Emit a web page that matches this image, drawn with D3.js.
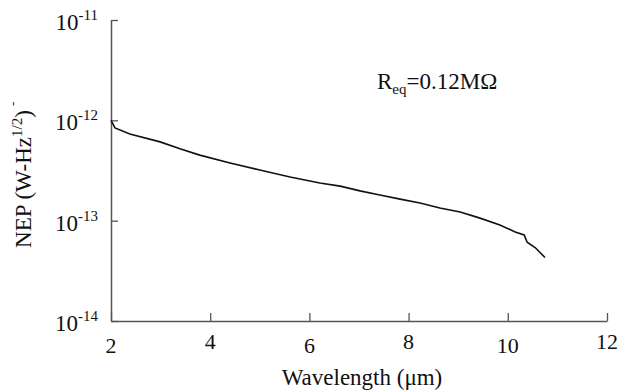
<!DOCTYPE html>
<html>
<head>
<meta charset="utf-8">
<script src="https://cdn.jsdelivr.net/npm/d3@7"></script>
<style>
  body { margin: 0; background: #fff; }
</style>
</head>
<body>
<div id="chart"></div>
<script>
// Wavelength (um) and NEP (W-Hz^-1/2)
var wavelength = [2.00, 2.08, 2.38, 2.99, 3.39, 3.79, 4.40, 5.00, 5.61, 6.21, 6.62, 7.02, 7.42,
                  7.83, 8.23, 8.63, 9.04, 9.44, 9.84, 10.15, 10.33, 10.39, 10.55, 10.75];
var nep = [1.0e-12, 8.4e-13, 7.3e-13, 6.1e-13, 5.2e-13, 4.5e-13, 3.76e-13, 3.2e-13, 2.72e-13,
           2.37e-13, 2.21e-13, 1.98e-13, 1.80e-13, 1.64e-13, 1.50e-13, 1.34e-13, 1.22e-13,
           1.06e-13, 9.06e-14, 7.7e-14, 7.2e-14, 6.1e-14, 5.4e-14, 4.3e-14];
var xTicks = [2, 4, 6, 8, 10, 12];
var yExps = [-14, -13, -12, -11];

var serif = "'Liberation Serif', 'Times New Roman', serif";

var margin = { top: 20, right: 25, bottom: 71, left: 111 },
  width = 632 - margin.left - margin.right,
  height = 392 - margin.top - margin.bottom;

var svg = d3.select("#chart")
  .append("svg")
  .attr("width", 632)
  .attr("height", 392)
  .append("g")
  .attr("transform", "translate(" + margin.left + "," + margin.top + ")");

var x = d3.scaleLinear().domain([2, 12]).range([0, width]);
var y = d3.scaleLog().domain([1e-14, 1e-11]).range([height, 0]);

// X axis, ticks point inward
var xAxis = svg.append("g")
  .attr("transform", "translate(0," + height + ")")
  .call(d3.axisBottom(x).tickValues(xTicks).tickSizeInner(-8).tickSizeOuter(0).tickFormat(""));
xAxis.select(".domain").attr("stroke", "#555").attr("stroke-width", 1.5);
xAxis.selectAll(".tick line").attr("stroke", "#555").attr("stroke-width", 1.3);

// staggered tick labels like the original
svg.selectAll(".xlab")
  .data(xTicks)
  .enter()
  .append("text")
  .attr("class", "xlab")
  .attr("x", function (d) { return x(d); })
  .attr("y", function (d, i) { return height + (i % 2 === 0 ? 32 : 28); })
  .attr("text-anchor", "middle")
  .style("font-family", serif)
  .style("font-size", "22px")
  .style("fill", "#111")
  .text(function (d) { return d; });

// Y axis
var yAxis = svg.append("g")
  .call(d3.axisLeft(y).tickValues(yExps.map(function (e) { return Math.pow(10, e); }))
    .tickSizeInner(-7).tickSizeOuter(0).tickFormat(""));
yAxis.select(".domain").attr("stroke", "#555").attr("stroke-width", 1.5);
yAxis.selectAll(".tick line").attr("stroke", "#555").attr("stroke-width", 1.3);

var ylab = svg.selectAll(".ylab")
  .data(yExps)
  .enter()
  .append("text")
  .attr("class", "ylab")
  .attr("x", -13)
  .attr("y", function (d) { return y(Math.pow(10, d)) + 10; })
  .attr("text-anchor", "end")
  .style("font-family", serif)
  .style("font-size", "23px")
  .style("fill", "#111");
ylab.append("tspan").text("10");
ylab.append("tspan")
  .attr("dy", -10)
  .style("font-size", "15px")
  .text(function (d) { return d; });

// NEP curve
var line = d3.line()
  .x(function (d, i) { return x(wavelength[i]); })
  .y(function (d) { return y(d); });

svg.append("path")
  .datum(nep)
  .attr("fill", "none")
  .attr("stroke", "#111")
  .attr("stroke-width", 1.6)
  .attr("d", line);

// annotation
var ann = svg.append("text")
  .attr("x", 266)
  .attr("y", 69)
  .style("font-family", serif)
  .style("font-size", "23px")
  .style("fill", "#111");
ann.append("tspan").text("R");
ann.append("tspan").attr("dy", 5).style("font-size", "15px").text("eq");
ann.append("tspan").attr("dy", -5).text("=0.12M\u03A9");

// axis titles
svg.append("text")
  .attr("x", width / 2 + 3)
  .attr("y", height + 64)
  .attr("text-anchor", "middle")
  .style("font-family", serif)
  .style("font-size", "23px")
  .style("fill", "#111")
  .text("Wavelength (\u03BCm)");

var yt = svg.append("text")
  .attr("transform", "translate(" + (-80) + "," + 159 + ") rotate(-90)")
  .attr("text-anchor", "middle")
  .style("font-family", serif)
  .style("font-size", "23px")
  .style("fill", "#111");
yt.append("tspan").text("NEP (W-Hz");
yt.append("tspan").attr("dy", -9).style("font-size", "15px").text("1/2");
yt.append("tspan").attr("dy", 9).text(")");

svg.append("text")
  .attr("transform", "translate(" + (-94) + "," + 86 + ") rotate(-90)")
  .style("font-family", serif)
  .style("font-size", "13px")
  .style("fill", "#111")
  .text("-");
</script>
</body>
</html>
